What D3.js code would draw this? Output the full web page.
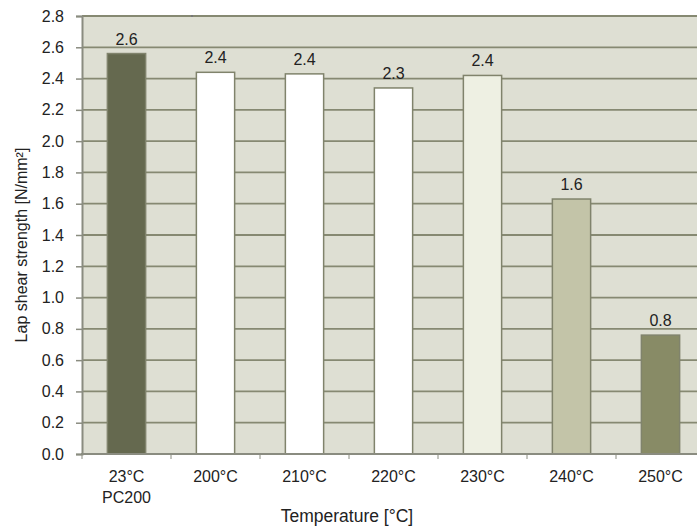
<!DOCTYPE html>
<html><head><meta charset="utf-8">
<script src="https://cdn.jsdelivr.net/npm/d3@7"></script>
<style>body{margin:0;background:#fff}svg{display:block}text{font-family:"Liberation Sans",Arial,sans-serif;fill:#222}</style>
</head><body><svg id="c" width="697" height="526"></svg>
<script>
const categories = ["23°C\nPC200","200°C","210°C","220°C","230°C","240°C","250°C"];
const values = [2.56, 2.44, 2.43, 2.34, 2.42, 1.63, 0.76];
const labels = ["2.6","2.4","2.4","2.3","2.4","1.6","0.8"];
const barColors = ["#65694f","#ffffff","#ffffff","#ffffff","#eef0e3","#c3c4a8","#888b66"];
const yTicks = [0,0.2,0.4,0.6,0.8,1.0,1.2,1.4,1.6,1.8,2.0,2.2,2.4,2.6,2.8];

const FS = 16;
const svg = d3.select("#c");
const L = 82, R = 705, T = 16, B = 454;
const x = d3.scaleBand().domain(categories).range([L, R]).paddingInner(0.57).paddingOuter(0.285);
const band = d3.scaleBand().domain(categories).range([L, R]);
const y = d3.scaleLinear().domain([0, 2.8]).range([B, T]);

svg.append("rect").attr("x", L).attr("y", T).attr("width", R - L).attr("height", B - T).attr("fill", "#dedfd3");

svg.append("g").selectAll("line").data(yTicks.filter(d => d > 0)).join("line")
  .attr("x1", L).attr("x2", R).attr("y1", d => y(d)).attr("y2", d => y(d))
  .attr("stroke", "#868972").attr("stroke-width", 1.8);

svg.append("g").selectAll("rect").data(values).join("rect")
  .attr("x", (d, i) => x(categories[i])).attr("width", x.bandwidth())
  .attr("y", d => y(d)).attr("height", d => B - y(d))
  .attr("fill", (d, i) => barColors[i]).attr("stroke", "#80836c").attr("stroke-width", 1.5);

svg.append("g").selectAll("text").data(values).join("text")
  .attr("x", (d, i) => x(categories[i]) + x.bandwidth() / 2).attr("y", d => y(d) - 9)
  .attr("text-anchor", "middle").attr("font-size", FS).text((d, i) => labels[i]);

// axes
const ya = svg.append("g").attr("transform", `translate(${L},0)`)
  .call(d3.axisLeft(y).tickValues(yTicks).tickFormat(d3.format(".1f")).tickSize(6).tickPadding(12));
ya.select(".domain").attr("stroke", "#8a8c80").attr("stroke-width", 2);
ya.selectAll(".tick line").attr("stroke", "#8a8c80").attr("stroke-width", 1.5);
ya.selectAll("text").attr("font-size", FS).attr("font-family", null).style("fill", "#222");

const xa = svg.append("g");
xa.append("line").attr("x1", L - 1).attr("x2", R).attr("y1", B).attr("y2", B).attr("stroke", "#8a8c80").attr("stroke-width", 2);
xa.selectAll(".tk").data(categories).join("line").attr("class", "tk")
  .attr("x1", d => band(d)).attr("x2", d => band(d)).attr("y1", B).attr("y2", B + 5)
  .attr("stroke", "#8a8c80").attr("stroke-width", 1);
xa.selectAll(".lb").data(categories).join("text").attr("class", "lb")
  .attr("x", d => x(d) + x.bandwidth() / 2).attr("y", 482).attr("text-anchor", "middle").attr("font-size", FS)
  .each(function (d) {
    const parts = d.split("\n");
    d3.select(this).selectAll("tspan").data(parts).join("tspan")
      .attr("x", x(d) + x.bandwidth() / 2).attr("dy", (p, i) => i ? 21 : 0).text(p => p);
  });

svg.append("text").attr("x", 347).attr("y", 522).attr("text-anchor", "middle").attr("font-size", 17.5).text("Temperature [°C]");
svg.append("text").attr("transform", "translate(27,245) rotate(-90)").attr("text-anchor", "middle").attr("font-size", FS).text("Lap shear strength [N/mm²]");
svg.append("rect").attr("x", 191).attr("y", 15).attr("width", 2).attr("height", 2).attr("fill", "#777");
</script></body></html>
